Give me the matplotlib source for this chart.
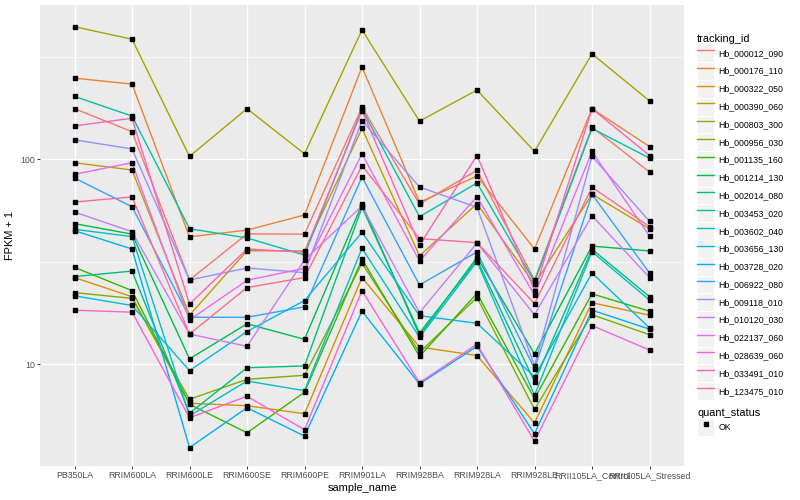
import matplotlib
matplotlib.use("Agg")
import matplotlib.pyplot as plt
from matplotlib.lines import Line2D
from matplotlib.patches import Rectangle
from matplotlib.legend_handler import HandlerLine2D

plt.rcParams['font.family'] = ['Liberation Sans', 'DejaVu Sans']

# samples on the x axis
samples = ["PB350LA", "RRIM600LA", "RRIM600LE", "RRIM600SE", "RRIM600PE",
           "RRIM901LA", "RRIM928BA", "RRIM928LA", "RRIM928LE",
           "RRII105LA_Control", "RRII105LA_Stressed"]

tracking_ids = ["Hb_000012_090", "Hb_000176_110", "Hb_000322_050", "Hb_000390_060",
                "Hb_000803_300", "Hb_000956_030", "Hb_001135_160", "Hb_001214_130",
                "Hb_002014_080", "Hb_003453_020", "Hb_003602_040", "Hb_003656_130",
                "Hb_003728_020", "Hb_006922_080", "Hb_009118_010", "Hb_010120_030",
                "Hb_022137_060", "Hb_028639_060", "Hb_033491_010", "Hb_123475_010"]

# ggplot default hue palette, 20 levels
colors = ["#F8766D", "#EA8331", "#D89000", "#C09B00", "#A3A500", "#7CAE00",
          "#39B600", "#00BB4E", "#00BF7D", "#00C1A3", "#00BFC4", "#00BAE0",
          "#00B0F6", "#35A2FF", "#9590FF", "#C77CFF", "#E76BF3", "#FA62DB",
          "#FF62BC", "#FF6C91"]

# FPKM + 1, one list per tracking id
hb_000012_090 = [176, 136, 25.7, 43.1, 43.0, 179, 60.3, 88.1, 25.7, 143, 86.4]
hb_000176_110 = [248, 232, 41.7, 45.0, 53.3, 281, 61.5, 82.6, 36.4, 176, 115]
hb_000322_050 = [26.4, 21.3, 6.43, 6.26, 5.72, 26.4, 12.1, 11.0, 5.16, 19.9, 17.3]
hb_000390_060 = [95.9, 88.4, 17.3, 35.7, 35.6, 141, 33.7, 60.5, 24.5, 67.3, 45.7]
hb_000803_300 = [442, 384, 103, 176, 106, 426, 153, 217, 109, 326, 192]
hb_000956_030 = [22.3, 20.9, 6.73, 8.42, 8.81, 31.0, 11.4, 21.1, 6.01, 17.4, 13.9]
hb_001135_160 = [29.6, 22.8, 6.36, 4.62, 7.28, 32.5, 10.9, 22.1, 6.77, 22.0, 18.1]
hb_001214_130 = [48.4, 43.0, 10.6, 15.7, 13.2, 60.1, 13.8, 33.1, 11.2, 37.6, 35.6]
hb_002014_080 = [26.7, 28.4, 5.75, 9.59, 9.78, 58.1, 14.2, 32.2, 8.20, 36.3, 21.3]
hb_003453_020 = [202, 162, 45.7, 41.2, 34.0, 175, 52.3, 76.4, 25.2, 141, 101]
hb_003602_040 = [45.4, 41.8, 5.59, 8.26, 7.41, 36.7, 13.5, 31.6, 7.04, 35.3, 20.5]
hb_003656_130 = [21.5, 19.3, 9.28, 14.4, 20.4, 43.9, 17.2, 15.8, 8.67, 27.8, 15.0]
hb_003728_020 = [44.7, 36.4, 3.91, 6.12, 4.45, 18.1, 7.99, 12.2, 4.57, 18.3, 14.8]
hb_006922_080 = [80.8, 58.5, 16.9, 16.9, 19.0, 81.7, 24.3, 35.2, 9.49, 67.3, 27.8]
hb_009118_010 = [124, 112, 25.7, 29.4, 27.9, 154, 73.0, 58.1, 9.81, 103, 49.7]
hb_010120_030 = [55.1, 44.2, 14.0, 12.2, 32.2, 59.0, 17.8, 38.9, 17.4, 52.9, 26.4]
hb_022137_060 = [84.2, 95.9, 16.4, 25.6, 29.3, 106, 31.8, 65.5, 21.7, 109, 42.0]
hb_028639_060 = [18.3, 17.9, 5.47, 6.96, 4.78, 22.8, 8.11, 12.5, 4.20, 15.4, 11.7]
hb_033491_010 = [145, 158, 19.6, 36.4, 35.1, 172, 38.1, 104, 22.8, 176, 104]
hb_123475_010 = [61.7, 65.3, 14.0, 23.6, 26.4, 92.8, 40.9, 39.1, 19.7, 72.8, 46.8]

series = [hb_000012_090, hb_000176_110, hb_000322_050, hb_000390_060, hb_000803_300,
          hb_000956_030, hb_001135_160, hb_001214_130, hb_002014_080, hb_003453_020,
          hb_003602_040, hb_003656_130, hb_003728_020, hb_006922_080, hb_009118_010,
          hb_010120_030, hb_022137_060, hb_028639_060, hb_033491_010, hb_123475_010]


# legend key with grey background like ggplot
class KeyHandler(HandlerLine2D):
    def create_artists(self, legend, orig_handle, xdescent, ydescent, width, height, fontsize, trans):
        arts = super().create_artists(legend, orig_handle, xdescent, ydescent, width, height, fontsize, trans)
        box = Rectangle((-xdescent, -ydescent), width, height, facecolor="#F2F2F2",
                        edgecolor="white", lw=0.8, transform=trans)
        return [box] + list(arts)


fig = plt.figure(figsize=(8, 5), dpi=100)
ax = fig.add_axes([0.05, 0.068, 0.805, 0.922])
ax.set_facecolor("#EBEBEB")

x = list(range(len(samples)))
for vals, col in zip(series, colors):
    ax.plot(x, vals, color=col, lw=1.0, zorder=3)
for vals in series:
    ax.plot(x, vals, ls="none", marker="s", ms=2.3, color="black", zorder=4)

ax.set_yscale("log")
ax.set_ylim(3.18, 564)
ax.set_xlim(-0.6, len(samples) - 0.4)
ax.set_yticks([10, 100])
ax.set_yticklabels(["10", "100"])
ax.set_yticks([31.6, 316], minor=True)
ax.set_xticks(x)
ax.set_xticklabels(samples)

ax.grid(True, which="major", color="white", lw=1.0, zorder=0)
ax.grid(True, which="minor", axis="y", color="white", lw=0.5, zorder=0)
ax.set_axisbelow(True)
for s in ax.spines.values():
    s.set_visible(False)
ax.tick_params(axis="both", which="major", length=2, width=0.7, color="#333333",
               labelsize=6.3, labelcolor="#4D4D4D", pad=1.5)
ax.tick_params(axis="y", which="minor", length=0)

ax.set_xlabel("sample_name", fontsize=7.9, labelpad=2)
ax.set_ylabel("FPKM + 1", fontsize=7.9, labelpad=4)

handles = [Line2D([], [], color=c, lw=1.0) for c in colors]
leg1 = fig.legend(handles, tracking_ids, loc="upper left", bbox_to_anchor=(0.866, 0.94),
                  frameon=False, title="tracking_id", title_fontsize=7.9, fontsize=6.3,
                  handlelength=1.95, handleheight=2.75, labelspacing=0.0,
                  handletextpad=0.5, borderpad=0, alignment="left",
                  handler_map={Line2D: KeyHandler()})
ok_handle = Line2D([], [], ls="none", marker="s", ms=2.3, color="black")
leg2 = fig.legend([ok_handle], ["OK"], loc="upper left", bbox_to_anchor=(0.866, 0.192),
                  frameon=False, title="quant_status", title_fontsize=7.9, fontsize=6.3,
                  handlelength=1.95, handleheight=2.75, labelspacing=0.0,
                  handletextpad=0.5, borderpad=0, alignment="left",
                  handler_map={Line2D: KeyHandler()})

fig.savefig("out.png", dpi=100)
